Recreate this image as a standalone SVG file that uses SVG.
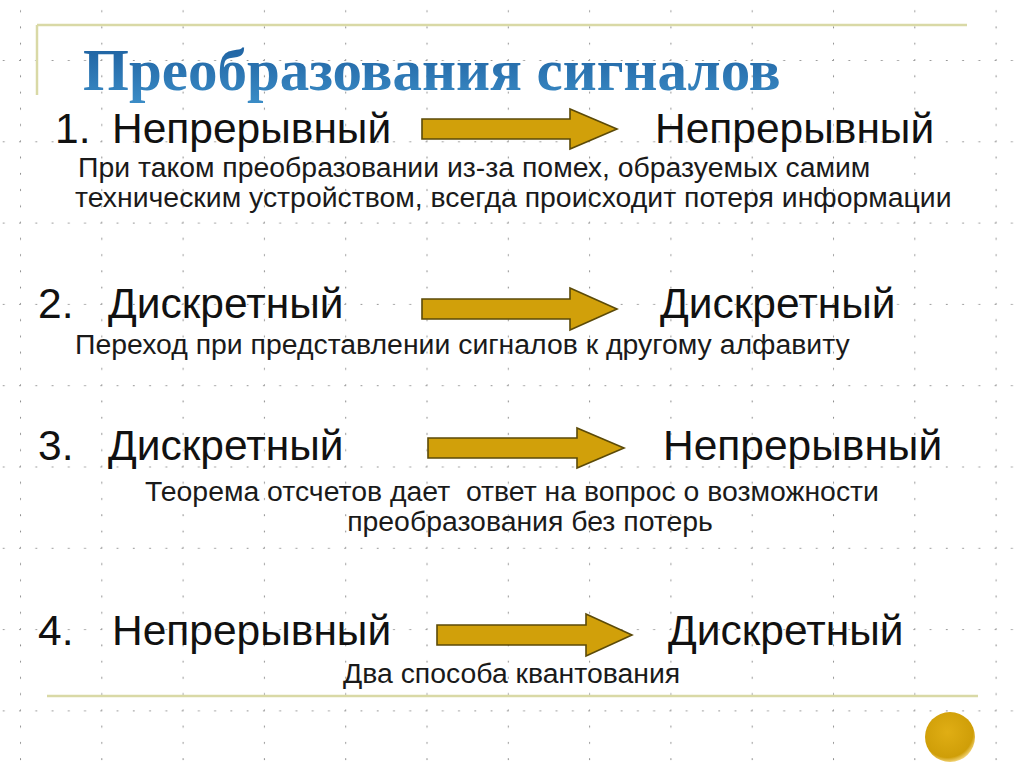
<svg xmlns="http://www.w3.org/2000/svg" width="1024" height="767" viewBox="0 0 1024 767">
  <style>
    .big { font-family: "Liberation Sans", Arial, sans-serif; font-size: 42.5px; fill: #111; }
    .sub { font-family: "Liberation Sans", Arial, sans-serif; font-size: 28.4px; fill: #1a1a1a; }
    .title { font-family: "Liberation Serif", "Times New Roman", serif; font-size: 59px; font-weight: bold; fill: url(#tg); }
    .arrow { fill: #D1A00A; stroke: #5b4a08; stroke-width: 1.6; stroke-linejoin: miter; }
    .rule { stroke: #d9d9a6; stroke-width: 2.5; fill: none; }
  </style>
  <defs>
    <linearGradient id="tg" x1="0" y1="0" x2="0" y2="1">
      <stop offset="0" stop-color="#1b5c9c"/>
      <stop offset="1" stop-color="#3b8cc6"/>
    </linearGradient>
    <pattern id="grid" patternUnits="userSpaceOnUse" x="20" y="60" width="81.3" height="81.3">
      <g fill="#8a8a8a">
        <circle cx="0" cy="0" r="1.1"/>
        <circle cx="0" cy="16.26" r="1.1"/>
        <circle cx="0" cy="32.52" r="1.1"/>
        <circle cx="0" cy="48.78" r="1.1"/>
        <circle cx="0" cy="65.04" r="1.1"/>
        <circle cx="16.26" cy="0" r="1.1"/>
        <circle cx="32.52" cy="0" r="1.1"/>
        <circle cx="48.78" cy="0" r="1.1"/>
        <circle cx="65.04" cy="0" r="1.1"/>
        <circle cx="81.3" cy="0" r="1.1"/>
        <circle cx="0" cy="81.3" r="1.1"/>
      </g>
    </pattern>
    <radialGradient id="cg" cx="0.45" cy="0.4" r="0.6">
      <stop offset="0" stop-color="#e0ae14"/>
      <stop offset="0.85" stop-color="#cf9e08"/>
      <stop offset="1" stop-color="#f0d070"/>
    </radialGradient>
  </defs>

  <rect width="1024" height="767" fill="#ffffff"/>
  <rect width="1024" height="767" fill="url(#grid)"/>

  <g id="frame">
    <line class="rule" x1="37" y1="25" x2="967" y2="25"/>
    <line class="rule" x1="37" y1="25" x2="37" y2="95"/>
    <line class="rule" x1="47" y1="696" x2="978" y2="696"/>
    <circle cx="950" cy="737" r="25" fill="url(#cg)"/>
  </g>

  <g id="title">
    <text class="title" x="83" y="90">Преобразования сигналов</text>
  </g>

  <g id="row1">
    <text class="big" x="55" y="143">1.</text>
    <text class="big" x="112" y="143">Непрерывный</text>
    <text class="big" x="655" y="143">Непрерывный</text>
    <text class="sub" x="78" y="177">При таком преобразовании из-за помех, образуемых самим</text>
    <text class="sub" x="75" y="207">техническим устройством, всегда происходит потеря информации</text>
  </g>

  <g id="row2">
    <text class="big" x="38" y="318">2.</text>
    <text class="big" x="108" y="318">Дискретный</text>
    <text class="big" x="660" y="318">Дискретный</text>
    <text class="sub" x="75" y="354">Переход при представлении сигналов к другому алфавиту</text>
  </g>

  <g id="row3">
    <text class="big" x="38" y="460">3.</text>
    <text class="big" x="108" y="460">Дискретный</text>
    <text class="big" x="663" y="460">Непрерывный</text>
    <text class="sub" x="512" y="501" text-anchor="middle" xml:space="preserve">Теорема отсчетов дает  ответ на вопрос о возможности</text>
    <text class="sub" x="530" y="531" text-anchor="middle">преобразования без потерь</text>
  </g>

  <g id="row4">
    <text class="big" x="38" y="645">4.</text>
    <text class="big" x="112" y="645">Непрерывный</text>
    <text class="big" x="668" y="645">Дискретный</text>
    <text class="sub" x="343" y="683">Два способа квантования</text>
  </g>

  <g id="connectors">
    <polygon class="arrow" points="422,119 570,119 570,109 617,129 570,149 570,139 422,139"/>
    <polygon class="arrow" points="422,299 570,299 570,288 617,309 570,330 570,319 422,319"/>
    <polygon class="arrow" points="428,438 577,438 577,428 624,448 577,468 577,458 428,458"/>
    <polygon class="arrow" points="437,625 586,625 586,614 632,635 586,656 586,645 437,645"/>
  </g>
</svg>
